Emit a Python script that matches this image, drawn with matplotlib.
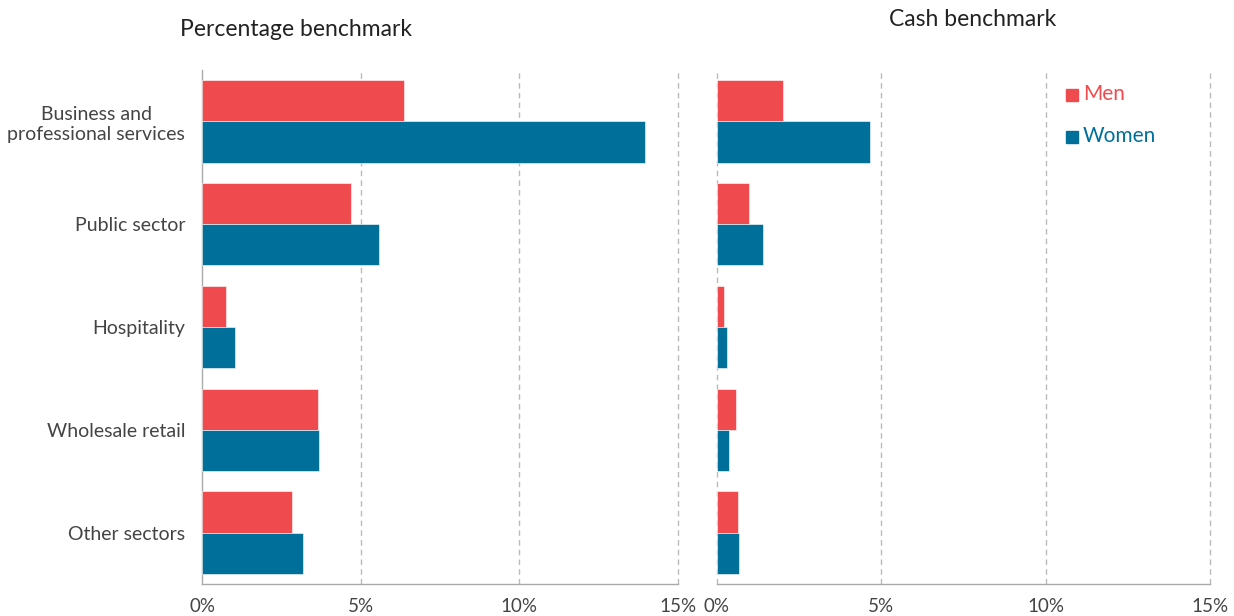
import matplotlib
matplotlib.use("Agg")
import matplotlib.pyplot as plt
from matplotlib.patches import Rectangle

categories = ["Business and\nprofessional services", "Public sector", "Hospitality",
              "Wholesale retail", "Other sectors"]
pct_men = [6.37, 4.70, 0.76, 3.66, 2.84]
pct_women = [13.96, 5.58, 1.04, 3.70, 3.18]
cash_men = [2.01, 0.98, 0.21, 0.58, 0.64]
cash_women = [4.65, 1.41, 0.29, 0.37, 0.67]
xticks = [0, 5, 10, 15]
xticklabels = ["0%", "5%", "10%", "15%"]

RED = "#EF4B4E"
BLUE = "#00709A"
TXT = "#444444"
GRID = "#BBBBBB"

plt.rcParams['font.family'] = ['Lato', 'DejaVu Sans']

fig = plt.figure(figsize=(12.34, 6.16), dpi=100)
ax1 = fig.add_axes([202/1234, 1-584/616, 476/1234, 514/616])
ax2 = fig.add_axes([717/1234, 1-584/616, 493/1234, 514/616])

h = 0.4
for ax, men, women in [(ax1, pct_men, pct_women), (ax2, cash_men, cash_women)]:
    ys = list(range(len(categories)))
    ax.barh([y - h/2 for y in ys], men, height=h, color=RED, edgecolor="white", linewidth=0.4, zorder=3)
    ax.barh([y + h/2 for y in ys], women, height=h, color=BLUE, edgecolor="white", linewidth=0.4, zorder=3)
    ax.set_ylim(4.5, -0.5)
    ax.set_xlim(0, 15)
    ax.set_xticks(xticks)
    ax.set_xticklabels(xticklabels)
    for x in xticks[1:]:
        ax.axvline(x, color=GRID, linestyle=(0, (4, 3)), linewidth=1, zorder=1, clip_on=False)
    for s in ["top", "right"]:
        ax.spines[s].set_visible(False)
    ax.spines["bottom"].set_color("#AAAAAA")
    ax.spines["bottom"].set_linewidth(1)
    ax.tick_params(axis="x", length=0, labelsize=13.5, labelcolor=TXT, pad=10)
    ax.tick_params(axis="y", length=0)

ax1.spines["left"].set_color("#AAAAAA")
ax1.spines["left"].set_linewidth(1)
ax1.set_yticks(range(len(categories)))
ax1.set_yticklabels(categories, fontsize=14, color=TXT, ha="right", multialignment="center")
ax1.tick_params(axis="y", pad=12)

ax2.spines["left"].set_visible(False)
ax2.axvline(0, color=GRID, linestyle=(0, (4, 3)), linewidth=1, zorder=1, clip_on=False)
ax2.set_yticks([])

fig.text(180/1234, 1-29/616, "Percentage benchmark", fontsize=16.5, color="#222222", ha="left", va="center")
fig.text(973/1234, 1-20/616, "Cash benchmark", fontsize=16.5, color="#222222", ha="center", va="center")

# legend
for yy, col, lab in [(95, RED, "Men"), (137, BLUE, "Women")]:
    fig.patches.append(Rectangle((1066/1234, 1-(yy+6)/616), 12/1234, 12/616,
                                 transform=fig.transFigure, color=col, figure=fig))
    fig.text(1083/1234, 1-(yy-1)/616, lab, fontsize=15, color=col, ha="left", va="center")

fig.savefig("out.png", dpi=100)
